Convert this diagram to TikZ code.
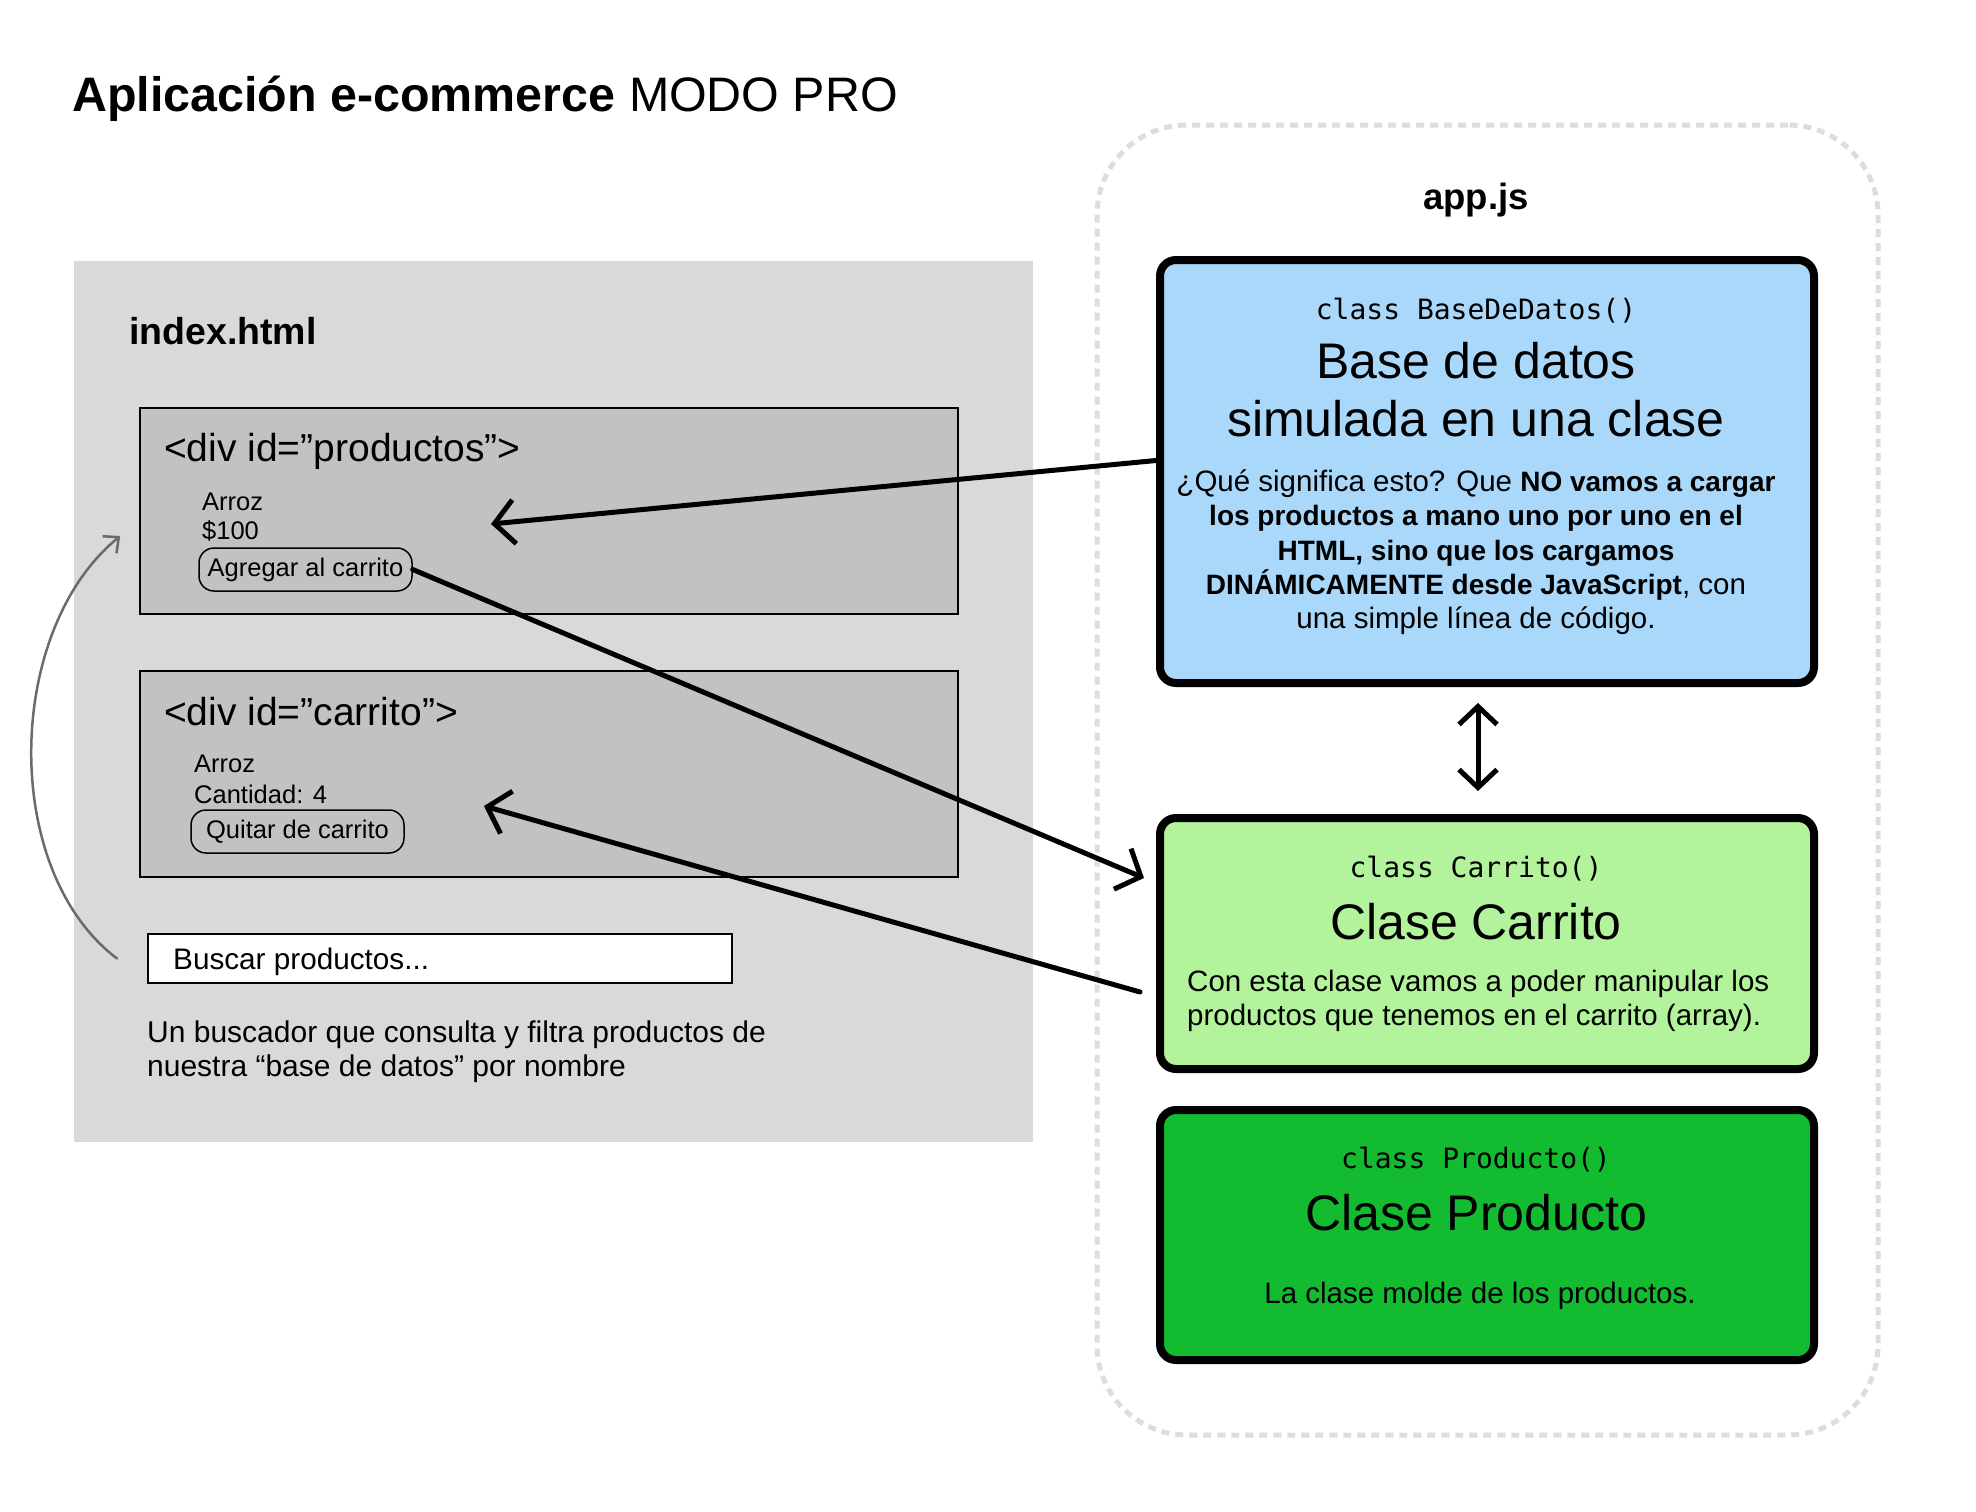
\documentclass[tikz,border=0pt]{standalone}
\usepackage{fontspec}
\setmainfont{Liberation Sans}
\setmonofont{DejaVu Sans Mono}
\usetikzlibrary{arrows.meta}
\definecolor{bgpanel}{HTML}{D9D9D9}
\definecolor{divfill}{HTML}{C2C2C2}
\definecolor{dbblue}{HTML}{A9D8FA}
\definecolor{cartgreen}{HTML}{B3F39C}
\definecolor{prodgreen}{HTML}{12BB2F}
\definecolor{dashgray}{HTML}{DDDDDD}
\definecolor{curvegray}{HTML}{6B6B6B}
\newcommand\fsz[2]{\fontsize{#1}{#2}\selectfont}
\newcommand\bfb[1]{{\fsz{28}{34}\bfseries #1}}
\begin{document}
\begin{tikzpicture}[x=1pt,y=-1pt,
  lbl/.style={inner sep=0pt, anchor=base west},
  ctr/.style={inner sep=0pt, anchor=base},
  classbox/.style={draw, line width=8pt, rounded corners=16pt, inner sep=0pt, minimum width=654pt},
  divbox/.style={draw, line width=1.5pt, fill=divfill, inner sep=0pt, minimum width=818pt, minimum height=206pt},
  btn/.style={draw, line width=1.5pt, rounded corners=15pt, inner sep=0pt, minimum height=43pt, minimum width=213pt, font=\fsz{25.5}{30}},
  bigarrow/.style={line width=5pt, line cap=round, line join=round, -{Straight Barb[length=20pt,width=44pt]}},
  small/.style={font=\fsz{25.5}{30}},
  body/.style={font=\fsz{29.5}{34}},
  mono/.style={font=\ttfamily\fsz{28}{34}},
  big/.style={font=\fsz{50}{58}}
]
\useasboundingbox (0,0) rectangle (1976,1512);
\fill[white] (0,0) rectangle (1976,1512);

% title
\node[lbl, font=\fsz{48.4}{56}] (title) at (72,111) {\textbf{Aplicación e-commerce} MODO PRO};

% left panel
\node[fill=bgpanel, inner sep=0pt, outer sep=0pt, minimum width=959pt, minimum height=881pt, anchor=north west] (panel) at (74,261) {};
\node[lbl, font=\bfseries\fsz{37.5}{42}] (indexlbl) at (129,344) {index.html};

\node[divbox] (prod) at (549,511) {};
\node[lbl, font=\fsz{39}{44}] (prodlbl) at (164,461) {<div id=”productos”>};
\node[lbl, small] (arroz1) at (202,510) {Arroz};
\node[lbl, small] (precio) at (202,539) {\$100};
\node[btn] (agregar) at (305.5,569.5) {Agregar al carrito};

\node[divbox] (carr) at (549,774) {};
\node[lbl, font=\fsz{39}{44}] (carrlbl) at (164,725) {<div id=”carrito”>};
\node[lbl, small] (arroz2) at (194,772) {Arroz};
\node[lbl, small] (cant) at (194,803) {Cantidad: 4};
\node[btn] (quitar) at (297.5,831.5) {Quitar de carrito};

\node[draw, fill=white, line width=2pt, inner sep=0pt, minimum width=584pt, minimum height=49pt] (search) at (440,958.5) {};
\node[lbl, font=\fsz{29.7}{34}] (searchtxt) at (173,969) {Buscar productos...};
\node[lbl, font=\fsz{30}{34}] (desc1) at (147,1042) {Un buscador que consulta y filtra productos de};
\node[lbl, font=\fsz{30}{34}] (desc2) at (147,1076) {nuestra “base de datos” por nombre};

% right container
\node[draw=dashgray, line width=5pt, dash pattern=on 8pt off 6pt, rounded corners=90pt, inner sep=0pt, outer sep=0pt, minimum width=781pt, minimum height=1310pt, anchor=north west] (app) at (1097,125) {};
\node[ctr, font=\bfseries\fsz{36.5}{40}] (applbl) at (1476,209) {app.js};

% BaseDeDatos
\node[classbox, fill=dbblue, minimum height=423pt] (db) at (1487,471.5) {};
\node[ctr, mono] (dbc) at (1476,319) {class BaseDeDatos()};
\node[ctr, big] (dbt1) at (1476,378) {Base de datos};
\node[ctr, big] (dbt2) at (1476,436) {simulada en una clase};
\node[ctr, body] (dbb1) at (1476,491) {¿Qué significa esto? Que \bfb{NO vamos a cargar}};
\node[ctr, body] (dbb2) at (1476,525) {\bfb{los productos a mano uno por uno en el}};
\node[ctr, body] (dbb3) at (1476,560) {\bfb{HTML, sino que los cargamos}};
\node[ctr, body] (dbb4) at (1476,594) {\bfb{DINÁMICAMENTE desde JavaScript}, con};
\node[ctr, body] (dbb5) at (1476,628) {una simple línea de código.};

% Carrito
\node[classbox, fill=cartgreen, minimum height=251pt] (cart) at (1487,943.5) {};
\node[ctr, mono] (cartc) at (1476,877) {class Carrito()};
\node[ctr, big] (cartt) at (1476,939) {Clase Carrito};
\node[lbl, body] (cartb1) at (1187,991) {Con esta clase vamos a poder manipular los};
\node[lbl, body] (cartb2) at (1187,1025) {productos que tenemos en el carrito (array).};

% Producto
\node[classbox, fill=prodgreen, minimum height=250pt] (prodc) at (1487,1235) {};
\node[ctr, mono] (prodcc) at (1476,1168) {class Producto()};
\node[ctr, big] (prodct) at (1476,1230) {Clase Producto};
\node[ctr, body] (prodcb) at (1480,1303) {La clase molde de los productos.};

% connectors
\coordinate (dbtip) at (491,524);
\draw[bigarrow] ([yshift=11pt]db.west) -- (dbtip);
\coordinate (carttip) at (1144,878);
\draw[bigarrow] (agregar.east) -- (carttip);
\coordinate (carttail) at ([xshift=-16pt,yshift=-48.5pt]cart.west);
\coordinate (quitartip) at (484,806);
\draw[bigarrow] (carttail) -- (quitartip);
\draw[line width=5pt, line cap=round, line join=round, {Straight Barb[length=18pt,width=38pt]}-{Straight Barb[length=18pt,width=38pt]}] ([xshift=-9pt,yshift=-16pt]db.south) -- ([xshift=-9pt,yshift=23pt]cart.north);
\draw[curvegray, line width=2.5pt, line cap=round, -{Straight Barb[length=12pt,width=22pt]}] ([xshift=-30pt]search.west) .. controls (0,870) and (5,630) .. ([xshift=-19pt,yshift=-25pt]prod.west);
\end{tikzpicture}
\end{document}
